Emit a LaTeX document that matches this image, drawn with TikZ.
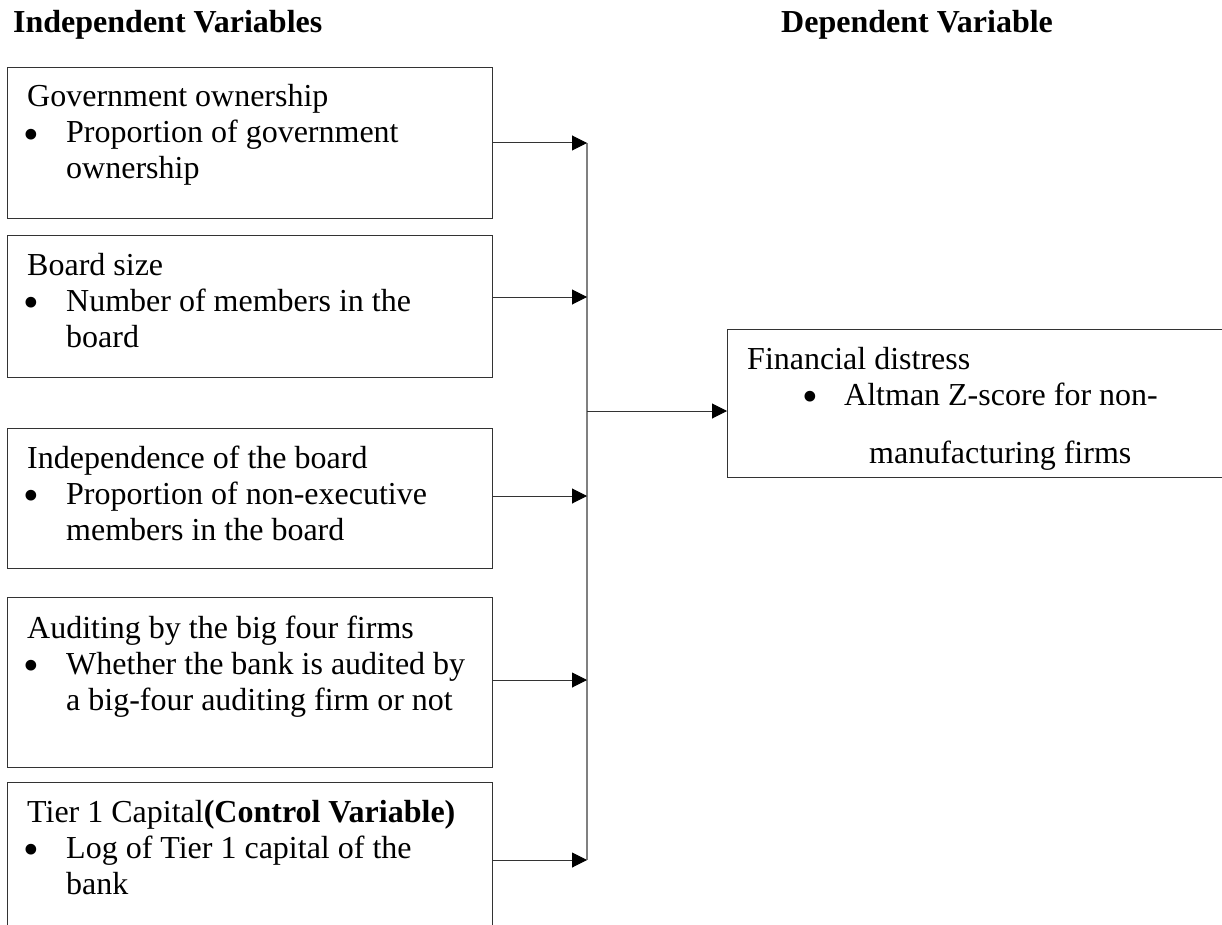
\documentclass[tikz,border=0pt]{standalone}
\usepackage{fontspec}
\usepackage{graphicx}
\setmainfont{Liberation Serif}
\usetikzlibrary{arrows.meta}
\newcommand{\bdot}{\makebox[0pt]{\raisebox{-6.5pt}{\scalebox{1.4}{\textbullet}}}}
\newcommand{\bitem}{\makebox[39pt][l]{\hspace{4pt}\bdot}}
\newcommand{\bcont}{\hspace*{39pt}}
\begin{document}
\begin{tikzpicture}
        [%%%%%%%%%%%%%%%%%%%%%%%%%%%%%%
        x=1pt, y=-1pt,
        varbox/.style={draw=black!80, line width=1pt, anchor=north west,
          minimum width=485pt, inner sep=0pt},
        vartext/.style={anchor=base west, inner sep=0pt,
          font=\fontsize{32}{36}\selectfont},
        head/.style={anchor=base west, inner sep=0pt,
          font=\fontsize{32}{36}\selectfont\bfseries},
        feed/.style={draw=black!80, line width=1pt,
          -{Triangle[length=15pt,width=15pt,color=black]}},
        bus/.style={draw=black!50, line width=1.3pt},
        ]%%%%%%%%%%%%%%%%%%%%%%%%%%%%%%
        \useasboundingbox (0,0) rectangle (1222,925);
        \clip (0,0) rectangle (1222,925);
        % Headings
        \node[head] (hind) at (13,33) {Independent Variables};
        \node[head] (hdep) at (781,33) {Dependent Variable};
        % Boxes of the independent variables
        \node[varbox, minimum height=151pt] (b1) at (7,67) {};
        \node[varbox, minimum height=142pt] (b2) at (7,235) {};
        \node[varbox, minimum height=140pt] (b3) at (7,428) {};
        \node[varbox, minimum height=170pt] (b4) at (7,597) {};
        \node[varbox, minimum height=200pt] (b5) at (7,782) {};
        % Box of the dependent variable
        \node[varbox, minimum width=560pt, minimum height=148pt] (rb) at (727,329) {};
        % Text
        \node[vartext] (t1) at (27,107) {\parbox[t]{460pt}{Government ownership\\
          \bitem Proportion of government\\ \bcont ownership}};
        \node[vartext] (t2) at (27,275) {\parbox[t]{460pt}{Board size\\
          \bitem Number of members in the\\ \bcont board}};
        \node[vartext] (t3) at (27,468) {\parbox[t]{460pt}{Independence of the board\\
          \bitem Proportion of non-executive\\ \bcont members in the board}};
        \node[vartext] (t4) at (27,638) {\parbox[t]{460pt}{Auditing by the big four firms\\
          \bitem Whether the bank is audited by\\ \bcont a big-four auditing firm or not}};
        \node[vartext] (t5) at (27,822) {\parbox[t]{460pt}{Tier 1 Capital\textbf{(Control Variable)}\\
          \bitem Log of Tier 1 capital of the\\ \bcont bank}};
        \node[vartext] (tr) at (747,369) {\parbox[t]{470pt}{Financial distress\\
          \hspace*{63pt}\makebox[34pt][l]{\bdot}Altman Z-score for non-\\[22pt]
          \hspace*{122pt}manufacturing firms}};
        % Connectors
        \coordinate (j1) at (587,143);
        \coordinate (j2) at (587,297);
        \coordinate (j3) at (587,496);
        \coordinate (j4) at (587,680);
        \coordinate (j5) at (587,860);
        \coordinate (jm) at (587,411);
        \draw[bus] (j1) -- (j5);
        \foreach \n in {1,...,5}{
          \draw[feed] (b\n.east |- j\n) -- (j\n);
        }
        \draw[feed] (jm) -- (rb.west |- jm);
      \end{tikzpicture}
\end{document}
